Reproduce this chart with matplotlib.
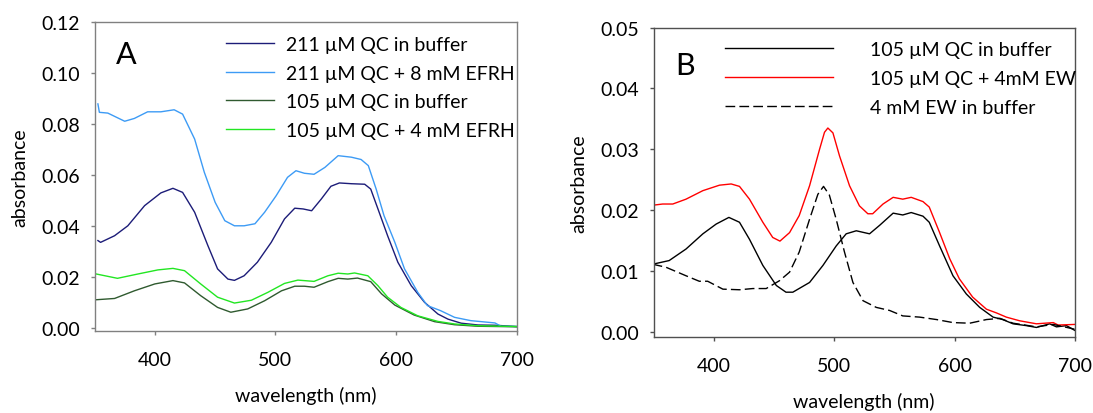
import matplotlib
matplotlib.use("Agg")
import matplotlib.pyplot as plt

plt.rcParams['font.family'] = ['Lato', 'DejaVu Sans']

# ---- panel A : QC spectra with / without EFRH ----
wl_a211 = [352.8, 355, 366.6, 377.6, 391.5, 405, 415, 423, 433, 444, 452, 460.6, 466, 474, 485,
           496.5, 507.5, 516, 523, 530, 538, 546, 553, 563, 574, 579, 585, 593, 601.5, 612.6,
           623.6, 634.7, 643, 654, 668, 682, 700]
abs_a211 = [0.0344, 0.0337, 0.0363, 0.0402, 0.0481, 0.0531, 0.0549, 0.0533, 0.0455, 0.0324, 0.0233,
            0.0193, 0.0188, 0.0206, 0.0259, 0.0337, 0.0429, 0.0471, 0.0468, 0.0461, 0.0507, 0.0557,
            0.0570, 0.0567, 0.0565, 0.0546, 0.0468, 0.0363, 0.0259, 0.0167, 0.0102, 0.0056, 0.0036,
            0.0020, 0.0013, 0.0012, 0.0007]

wl_a211e = [352.8, 354, 361, 375, 383, 394, 405, 416, 423, 433, 441, 450, 458, 466, 474, 483, 491,
            500.6, 510, 517, 524, 532, 541, 552, 563, 571, 577, 583.5, 590, 599, 607, 618, 626,
            637, 648.5, 662, 682, 687, 700]
abs_a211e = [0.0880, 0.0847, 0.0844, 0.0812, 0.0823, 0.0849, 0.0849, 0.0857, 0.0840, 0.0742, 0.0612,
             0.0494, 0.0422, 0.0402, 0.0402, 0.0410, 0.0455, 0.0520, 0.0592, 0.0618, 0.0608, 0.0604,
             0.0631, 0.0677, 0.0671, 0.0662, 0.0638, 0.0546, 0.0442, 0.0337, 0.0233, 0.0141, 0.0089,
             0.0069, 0.0043, 0.0030, 0.0021, 0.0008, 0.0007]

wl_a105 = [351.4, 366.6, 383, 400, 415, 424.6, 438, 452, 463, 477, 491, 505, 516, 524, 532, 543.5,
           552, 560, 568, 579, 588, 599, 615, 632, 648.5, 668, 700]
abs_a105 = [0.0112, 0.0117, 0.0147, 0.0174, 0.0187, 0.0178, 0.0128, 0.0082, 0.0063, 0.0076, 0.0108,
            0.0147, 0.0165, 0.0165, 0.0161, 0.0183, 0.0196, 0.0193, 0.0197, 0.0183, 0.0135, 0.0091,
            0.0052, 0.0026, 0.0014, 0.0008, 0.0006]

wl_a105e = [351.4, 369, 386, 402.5, 415, 424.6, 438, 452, 466, 480, 493.7, 507.5, 518.6, 532, 543.5,
            552, 560, 565.6, 576.6, 585, 593, 604, 618, 634.7, 648.5, 668, 700]
abs_a105e = [0.0213, 0.0196, 0.0213, 0.0229, 0.0235, 0.0226, 0.0174, 0.0122, 0.0099, 0.0110, 0.0141,
             0.0176, 0.0189, 0.0184, 0.0206, 0.0216, 0.0213, 0.0217, 0.0206, 0.0167, 0.0122, 0.0082,
             0.0049, 0.0027, 0.0017, 0.0010, 0.0007]

# ---- panel B : QC spectra with / without EW ----
wl_b105 = [349.3, 363, 377, 391, 402, 412.6, 421.4, 429.7, 440.8, 452, 460, 465.7, 479.6, 490.7,
           501.7, 510, 518.4, 529.4, 537.8, 549, 557, 564, 573.8, 579, 587.6, 598.7, 609.8, 620.9,
           632, 640, 648.6, 659.7, 668, 679, 684.6, 693, 700]
abs_b105 = [0.0111, 0.0117, 0.0136, 0.0161, 0.0177, 0.0188, 0.0180, 0.0152, 0.0109, 0.0076, 0.0065,
            0.0065, 0.0081, 0.0109, 0.0141, 0.0161, 0.0166, 0.0161, 0.0175, 0.0195, 0.0192, 0.0196,
            0.0190, 0.0180, 0.0141, 0.0092, 0.0062, 0.0040, 0.0024, 0.0020, 0.0013, 0.0010, 0.0007,
            0.0013, 0.0008, 0.0010, 0.0002]

wl_b105ew = [349.3, 357.6, 366, 377, 391, 404.8, 414.5, 421.4, 429.7, 440.8, 449, 455, 463, 471,
             479.6, 487.9, 492, 494.8, 499, 504.5, 512.8, 521, 528, 532, 540.6, 549, 557, 564,
             573.8, 579, 587.6, 596, 604, 615, 626.5, 634.7, 643, 654, 668, 682, 686, 700]
abs_b105ew = [0.0208, 0.0210, 0.0210, 0.0218, 0.0232, 0.0241, 0.0243, 0.0239, 0.0218, 0.0180, 0.0155,
              0.0149, 0.0163, 0.0191, 0.0240, 0.0300, 0.0328, 0.0335, 0.0327, 0.0289, 0.0240, 0.0207,
              0.0194, 0.0194, 0.0210, 0.0221, 0.0218, 0.0221, 0.0214, 0.0205, 0.0163, 0.0120, 0.0087,
              0.0057, 0.0037, 0.0031, 0.0024, 0.0018, 0.0013, 0.0015, 0.0011, 0.0012]

wl_bew = [349.3, 360.4, 377, 388, 395, 407.6, 421.4, 432.5, 443.6, 454.7, 463, 471, 479.6, 486.5,
          491.2, 496, 501.7, 508.6, 515.6, 524, 535, 546, 557, 571, 585, 598.7, 612.6, 626.5, 637.6,
          648.6, 668, 682, 700]
abs_bew = [0.0111, 0.0106, 0.0092, 0.0083, 0.0083, 0.0070, 0.0069, 0.0071, 0.0071, 0.0084, 0.0098,
           0.0131, 0.0185, 0.0226, 0.0239, 0.0225, 0.0185, 0.0131, 0.0081, 0.0051, 0.0040, 0.0035,
           0.0026, 0.0024, 0.0020, 0.0015, 0.0014, 0.0020, 0.0022, 0.0014, 0.0008, 0.0012, 0.0004]

labels_a = ["211 µM QC in buffer", "211 µM QC + 8 mM EFRH",
            "105 µM QC in buffer", "105 µM QC + 4 mM EFRH"]
labels_b = ["105 µM QC in buffer", "105 µM QC + 4mM EW", "4 mM EW in buffer"]

FS = 14

fig = plt.figure(figsize=(10.93, 4.14), dpi=100)
axA = fig.add_axes([0.0865, 0.1988, 0.3862, 0.7449])
axB = fig.add_axes([0.5979, 0.1843, 0.3856, 0.7464])

axA.plot(wl_a211, abs_a211, color="#1c1c78", lw=1.0, label=labels_a[0])
axA.plot(wl_a211e, abs_a211e, color="#3d9bf5", lw=1.0, label=labels_a[1])
axA.plot(wl_a105, abs_a105, color="#2f5a2f", lw=1.0, label=labels_a[2])
axA.plot(wl_a105e, abs_a105e, color="#22e622", lw=1.0, label=labels_a[3])

axB.plot(wl_b105, abs_b105, color="black", lw=1.0, label=labels_b[0])
axB.plot(wl_b105ew, abs_b105ew, color="#ff0000", lw=1.0, label=labels_b[1])
axB.plot(wl_bew, abs_bew, color="black", lw=1.0, dashes=(7, 3), label=labels_b[2])

for ax, spine_col in ((axA, "#808080"), (axB, "#505050")):
    ax.set_xlim(350, 700)
    ax.set_xticks([400, 500, 600, 700])
    for s in ax.spines.values():
        s.set_color(spine_col)
        s.set_linewidth(1.0)
    ax.tick_params(direction="out", length=2.6, width=1.0, color=spine_col,
                   labelsize=FS, top=False, right=False)
    ax.tick_params(axis="y", pad=8)
    ax.tick_params(axis="x", pad=12)
    ax.set_xlabel("wavelength (nm)", fontsize=FS, labelpad=13)
    ax.set_ylabel("absorbance", fontsize=FS, labelpad=9)

axA.set_ylim(-0.00094, 0.12)
axA.set_yticks([0, 0.02, 0.04, 0.06, 0.08, 0.10, 0.12])
axA.set_yticklabels(["0.00", "0.02", "0.04", "0.06", "0.08", "0.10", "0.12"])
axB.set_ylim(-0.00082, 0.05)
axB.set_yticks([0, 0.01, 0.02, 0.03, 0.04, 0.05])
axB.set_yticklabels(["0.00", "0.01", "0.02", "0.03", "0.04", "0.05"])

axA.text(0.051, 0.897, "A", transform=axA.transAxes, fontsize=22, va="center", ha="left")
axB.text(0.051, 0.879, "B", transform=axB.transAxes, fontsize=22, va="center", ha="left")

axA.legend(loc="upper left", bbox_to_anchor=(0.311, 0.956), frameon=False, fontsize=FS,
           handlelength=2.47, handletextpad=0.64, labelspacing=0.6,
           borderpad=0, borderaxespad=0)
axB.legend(loc="upper left", bbox_to_anchor=(0.170, 0.956), frameon=False, fontsize=FS,
           handlelength=5.56, handletextpad=1.9, labelspacing=0.6,
           borderpad=0, borderaxespad=0)

fig.savefig("out.png", dpi=100)
